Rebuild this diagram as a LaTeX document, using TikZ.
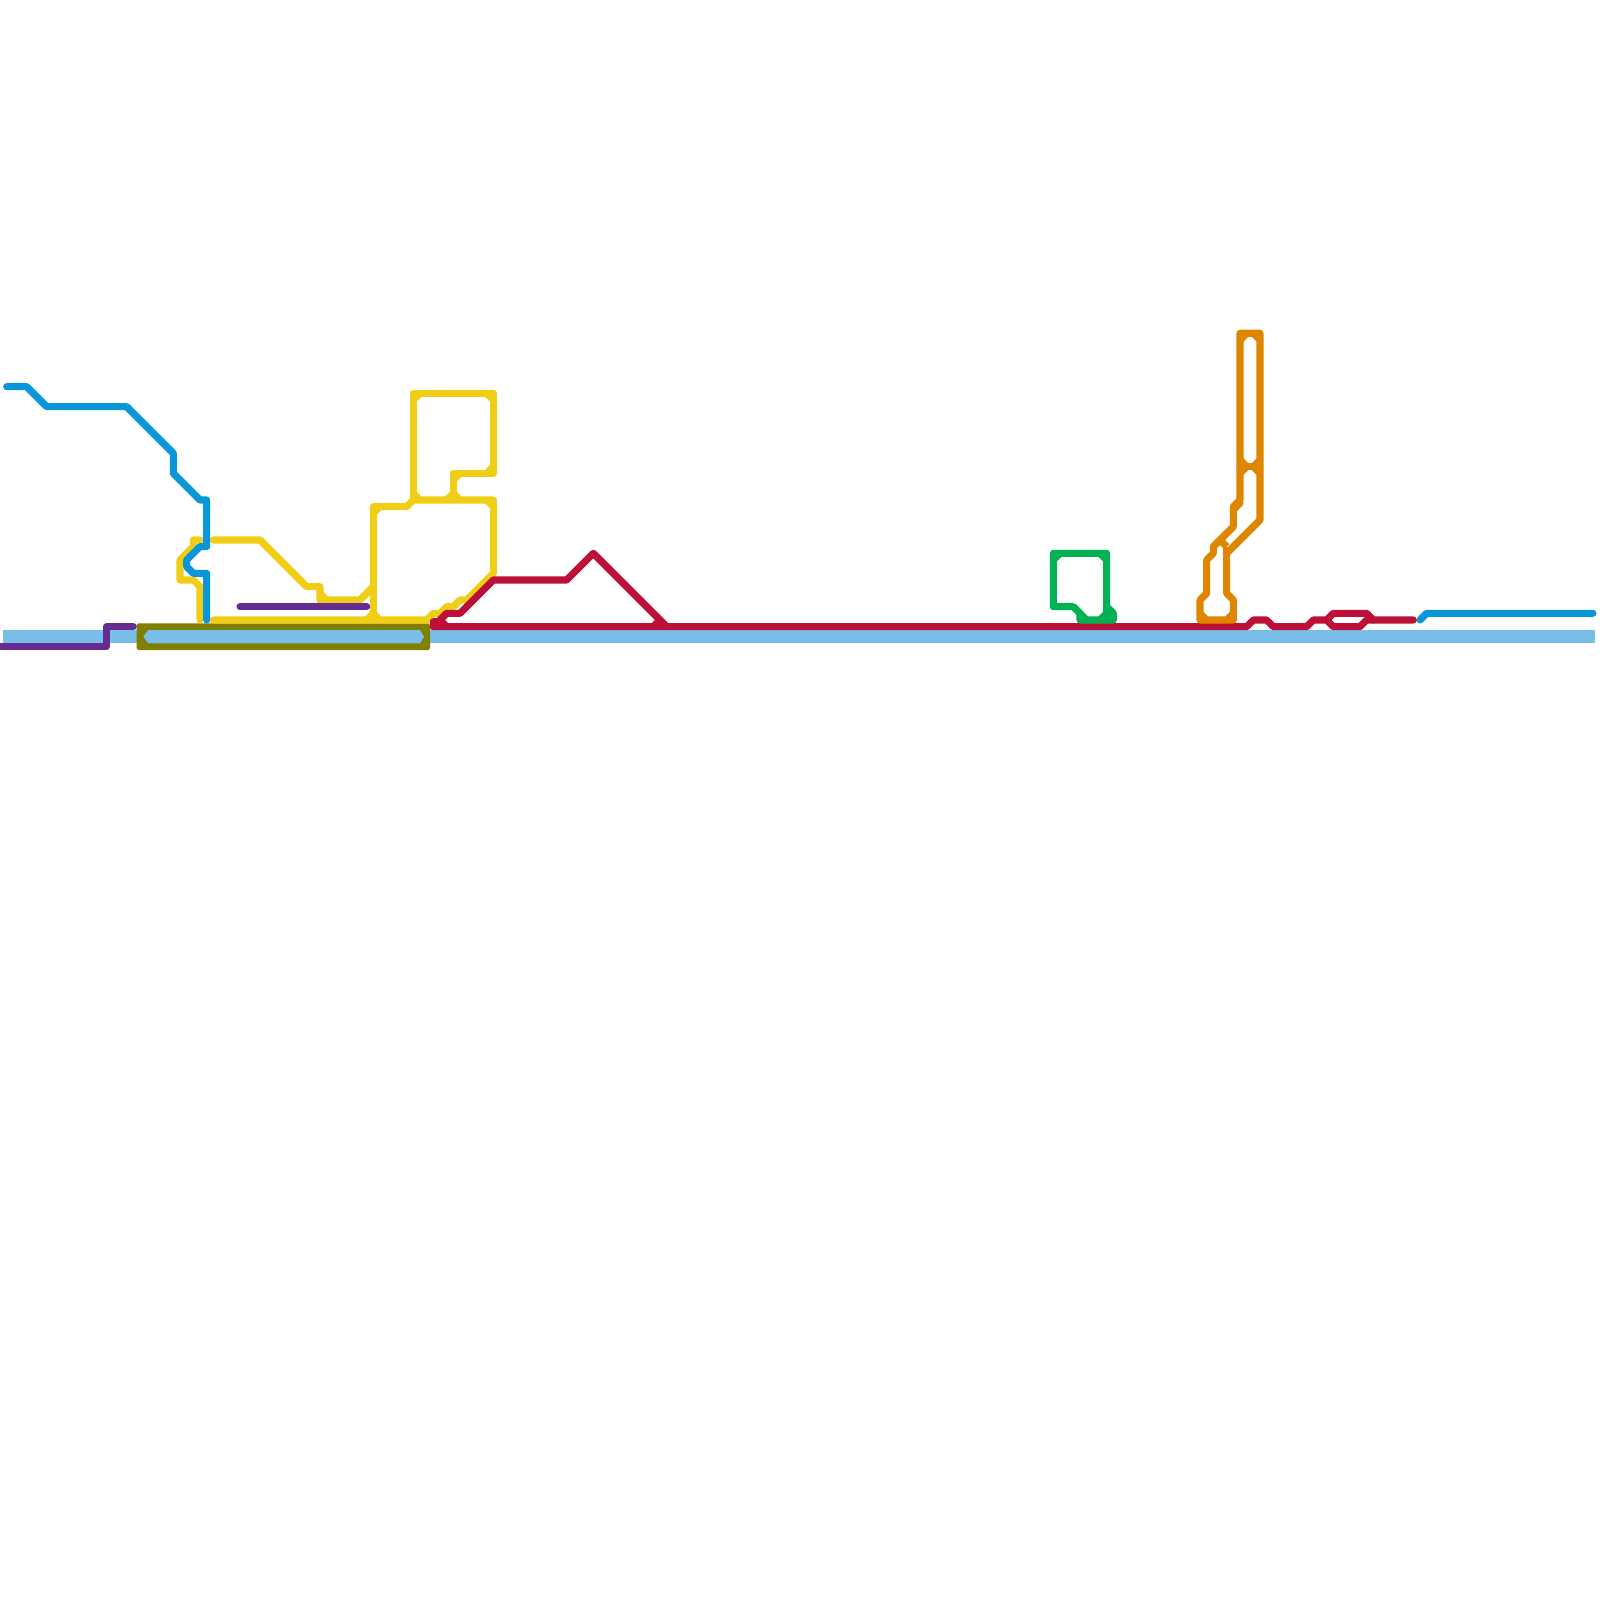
\documentclass[tikz,border=0pt]{standalone}
\usepackage{tikz}

\definecolor{lineblue}{HTML}{0A97D9}
\definecolor{lineyellow}{HTML}{F0CE15}
\definecolor{linered}{HTML}{BD1038}
\definecolor{lineorange}{HTML}{DF8600}
\definecolor{linegreen}{HTML}{00B251}
\definecolor{linepurple}{HTML}{662C90}
\definecolor{lineolive}{HTML}{808000}
\definecolor{linesky}{HTML}{79BDE9}

\begin{document}
\begin{tikzpicture}[
    x=0.01cm, y=-0.01cm, % 1 unit is 1 pixel of the map, y runs down
    metro/.style={line width=0.071cm, line join=round, line cap=round}, % Style for one line
    wide/.style={line width=0.1333cm, linesky, rounded corners=1pt} % Style for the wide light band
]
\useasboundingbox (0, 0) rectangle (1600, 1600);

% Wide light band
\draw[wide] (3.3, 636.67) -- (103.3, 636.67);
\draw[wide] (110, 636.67) -- (136.67, 636.67);
\draw[wide] (430, 636.67) -- (1595, 636.67);

% Olive frame with the band inside
\fill[lineolive, rounded corners=0.5pt] (136.67, 623.3) rectangle (430, 650);
\fill[linesky] (143.3, 636.67) -- (148.3, 630) -- (420, 630) -- (424, 636.67) -- (420, 643.3) -- (148.3, 643.3) -- cycle;

% Yellow line
\draw[metro, lineyellow] (213.3, 540) -- (260, 540) -- (306.67, 586.67) -- (320, 586.67) -- (320, 600) -- (360, 600) -- (373.3, 586.67);
\draw[metro, lineyellow] (200, 540) -- (193.3, 540) -- (193.3, 546.67) -- (180, 560) -- (180, 580) -- (193.3, 580) -- (200, 586.67) -- (200, 620);
\draw[metro, lineyellow] (213.3, 620) -- (426.67, 620) -- (433.3, 613.3) -- (440, 613.3) -- (446.67, 606.67) -- (453.3, 606.67) -- (460, 600) -- (466.67, 600) -- (493.3, 573.3) -- (493.3, 500) -- (420, 500) -- (413.3, 500) -- (406.67, 506.67) -- (373.3, 506.67) -- (373.3, 620);
\draw[metro, lineyellow] (413.3, 500) -- (413.3, 393.3) -- (493.3, 393.3) -- (493.3, 473.3) -- (453.3, 473.3) -- (453.3, 500);
% Small corner pieces
\foreach \xa/\ya/\xb/\yb in {413.3/400/420/393.3, 486.67/393.3/493.3/400, 486.67/473.3/493.3/466.67, 453.3/480/460/473.3, 446.67/500/453.3/493.3, 453.3/493.3/460/500, 413.3/493.3/420/500, 486.67/500/493.3/506.67, 373.3/513.3/380/506.67, 366.67/620/373.3/613.3, 373.3/613.3/380/620, 320/593.3/326.67/600}
    \draw[metro, lineyellow, line cap=butt] (\xa, \ya) -- (\xb, \yb);

% Purple line
\draw[metro, linepurple] (-5, 646.67) -- (106.67, 646.67) -- (106.67, 626.67) -- (133.3, 626.67);
\draw[metro, linepurple] (240, 606.67) -- (366.67, 606.67);

% Blue line
\draw[metro, lineblue] (6.67, 386.67) -- (26.67, 386.67) -- (46.67, 406.67) -- (126.67, 406.67) -- (173.3, 453.3) -- (173.3, 473.3) -- (200, 500) -- (206.67, 500) -- (206.67, 546.67) -- (200, 546.67) -- (186.67, 560) -- (186.67, 566.67) -- (193.3, 573.3) -- (206.67, 573.3) -- (206.67, 620);
\draw[metro, lineblue] (1420, 620) -- (1426.67, 613.3) -- (1593, 613.3);

% Red line
\draw[metro, linered] (433.3, 626.67) -- (433.3, 621.67) -- (438.3, 621.67) -- (446.67, 613.3) -- (460, 613.3) -- (493.3, 580) -- (566.67, 580) -- (593.3, 553.3) -- (666.67, 626.67);
\draw[metro, linered] (433.3, 626.67) -- (1246.67, 626.67) -- (1253.3, 620) -- (1266.67, 620) -- (1273.3, 626.67) -- (1306.67, 626.67) -- (1313.3, 620) -- (1326.67, 620) -- (1333.3, 613.3) -- (1366.67, 613.3) -- (1373.3, 620) -- (1413.3, 620);
\draw[metro, linered] (1326.67, 620) -- (1333.3, 626.67) -- (1360, 626.67) -- (1366.67, 620) -- (1373.3, 620);
\draw[metro, linered, line cap=butt] (440, 620) -- (446.67, 626.67);
\draw[metro, linered, line cap=butt] (653.3, 626.67) -- (660, 620);

% Green line
\draw[metro, linegreen] (1053.3, 553.3) -- (1106.67, 553.3) -- (1106.67, 606.67) -- (1113.3, 613.3) -- (1113.3, 620) -- (1080, 620) -- (1080, 613.3) -- (1073.3, 606.67) -- (1053.3, 606.67) -- cycle;
\foreach \xa/\ya/\xb/\yb in {1053.3/560/1060/553.3, 1100/553.3/1106.67/560, 1073.3/606.67/1086.67/620, 1106.67/613.3/1100/620, 1106.67/606.67/1106.67/613.3, 1106.67/613.3/1113.3/613.3, 1106.67/613.3/1113.3/620}
    \draw[metro, linegreen, line cap=butt] (\xa, \ya) -- (\xb, \yb);

% Orange line
\draw[metro, lineorange] (1240, 500) -- (1240, 333.3) -- (1260, 333.3) -- (1260, 520) -- (1226.67, 553.3) -- (1226.67, 593.3) -- (1233.3, 600) -- (1233.3, 620) -- (1200, 620) -- (1200, 600) -- (1206.67, 593.3) -- (1206.67, 560) -- (1213.3, 553.3) -- (1213.3, 546.67) -- (1233.3, 526.67) -- (1233.3, 506.67) -- (1240, 500);
\draw[metro, lineorange] (1240, 466.67) -- (1260, 466.67);
\draw[metro, lineorange] (1240, 503) -- (1233.3, 510);
\foreach \xa/\ya/\xb/\yb in {1240/340/1246.67/333.3, 1253.3/333.3/1260/340, 1240/460/1246.67/466.67, 1253.3/466.67/1260/460, 1240/473.3/1246.67/466.67, 1253.3/466.67/1260/473.3, 1220/540/1226.67/546.67, 1200/613.3/1206.67/620, 1226.67/620/1233.3/613.3}
    \draw[metro, lineorange, line cap=butt] (\xa, \ya) -- (\xb, \yb);
\draw[metro, lineorange, line cap=butt] (1226.67, 546.67) -- (1226.67, 553.3);

\end{tikzpicture}
\end{document}
